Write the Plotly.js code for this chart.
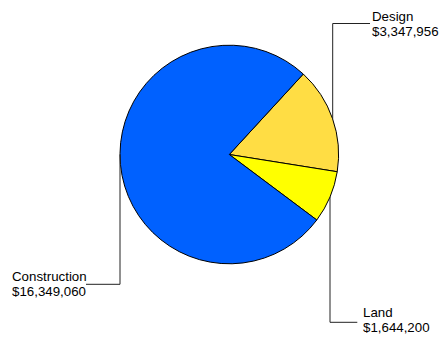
<!DOCTYPE html>
<html>
<head>
<meta charset="utf-8">
<script src="https://cdn.plot.ly/plotly-3.0.1.min.js"></script>
<style>html,body{margin:0;padding:0;background:#fff;}#chart{width:441px;height:339px;}</style>
</head>
<body>
<div id="chart"></div>
<script>
const categories = ["Design", "Land", "Construction"];
const values = [3347956, 1644200, 16349060];
const colors = ["#FFDD44", "#FFFF00", "#0061FF"];

const W = 441, H = 339;
const cx = 229.3, cy = 154.5, R = 109.3;
const px = x => x / W;
const py = y => 1 - y / H;
const FS = 13.3;

// leader line layout (pixel): vertical x, elbow y, end x, text left, first baseline
const leaders = [
  {vx: 332.7, ey: 23.5, hx: 370, tx: 371, b1: 20.7, upper: true},
  {vx: 330, ey: 322.3, hx: 357.3, tx: 361.7, b1: 317.3, upper: false},
  {vx: 120, ey: 284.3, hx: 86, tx: 11.3, b1: 280.7, upper: false, left: true}
];

const shapes = [];
const annotations = [];
const fnt = {family: 'Arial, "Liberation Sans", sans-serif', size: FS, color: '#000'};
leaders.forEach((L, i) => {
  const dx = L.vx - cx;
  const d = Math.sqrt(Math.max(R * R - dx * dx, 0));
  const edgeY = L.upper ? cy - d : cy + d;
  const startY = L.left ? cy : edgeY;
  shapes.push({type: 'path', xref: 'paper', yref: 'paper',
    path: `M ${px(L.vx)},${py(startY)} L ${px(L.vx)},${py(L.ey)} L ${px(L.hx)},${py(L.ey)}`,
    line: {color: '#222222', width: 1}});
  const lines = [categories[i], '$' + values[i].toLocaleString('en-US')];
  lines.forEach((t, k) => {
    const base = L.b1 + 15 * k;
    annotations.push({xref: 'paper', yref: 'paper', x: px(L.tx - 1), y: py(base - 0.35 * FS),
      xanchor: 'left', yanchor: 'middle', align: 'left', showarrow: false,
      text: t, font: fnt});
  });
});

const data = [{
  type: 'pie',
  labels: categories,
  values: values,
  sort: false,
  direction: 'clockwise',
  rotation: 42.6,
  textinfo: 'none',
  hoverinfo: 'label+value',
  marker: {colors: colors, line: {color: '#000', width: 1}},
  domain: {x: [px(cx - R), px(cx + R)], y: [py(cy + R), py(cy - R)]},
  showlegend: false
}];

const layout = {
  width: W, height: H,
  margin: {l: 0, r: 0, t: 0, b: 0},
  paper_bgcolor: '#fff',
  plot_bgcolor: '#fff',
  showlegend: false,
  shapes: shapes,
  annotations: annotations
};

Plotly.newPlot('chart', data, layout, {staticPlot: true});
</script>
</body>
</html>
